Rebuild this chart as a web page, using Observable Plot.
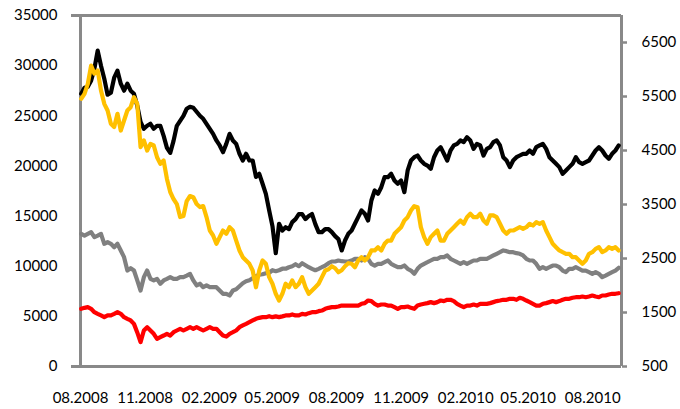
<!DOCTYPE html>
<html>
<head>
<meta charset="utf-8">
<script src="https://cdn.jsdelivr.net/npm/d3@7"></script>
<script src="https://cdn.jsdelivr.net/npm/@observablehq/plot@0.6"></script>
<style>
  html, body { margin: 0; padding: 0; background: #fff; }
  #chart { width: 680px; height: 409px; }
</style>
</head>
<body>
<div id="chart"></div>
<script>
// X-axis tick labels (month.year)
const xTickLabels = ["08.2008", "11.2008", "02.2009", "05.2009", "08.2009", "11.2009", "02.2010", "05.2010", "08.2010"];
// Left axis tick values
const leftTicks = [0, 5000, 10000, 15000, 20000, 25000, 30000, 35000];
// Right axis tick values
const rightTicks = [500, 1500, 2500, 3500, 4500, 5500, 6500];
const rightMin = 500, rightMax = 7000, leftMax = 35000;

// Sampled series (evenly spaced from early Aug 2008 to early Sep 2010), left-axis units
const blackSeries = [
  27200, 27800, 27900, 28500, 29700, 31500, 30000, 28700, 27100, 27300,
  28800, 29500, 28200, 27500, 28200, 27500, 27200, 26000, 24400, 23700,
  24000, 24200, 23700, 24000, 24000, 23000, 21800, 21300, 22500, 24000,
  24500, 25000, 25700, 25900, 25800, 25400, 25000, 24700, 24200, 23700, 23200,
  22540, 22040, 21370, 22200, 23200, 22540, 22200, 21210, 20540, 21210,
  20540, 20540, 18900, 19210, 18220, 17220, 15560, 14000, 11300, 14230,
  13560, 13890, 13700, 14400, 14700, 15200, 15200, 14700, 15000, 15200,
  14200, 13400, 13400, 13700, 13700, 13400, 13000, 12700, 11570, 12560, 13230,
  13560, 14230, 14890, 15560, 15230, 14560, 16550, 17550, 17220, 17880,
  18880, 18880, 19210, 18550, 18220, 18550, 17380, 19550, 20540, 20870,
  21040, 20540, 20210, 20040, 19710, 20870, 21540, 21870, 21210, 20540,
  21540, 22040, 22200, 22540, 22370, 22870, 22540, 21700, 22200, 22040, 21040,
  21700, 21870, 22370, 22540, 22040, 20870, 20540, 19880, 20540, 20870,
  21040, 21210, 21210, 21540, 21210, 21870, 22040, 22200, 21700, 20870,
  20540, 20210, 19880, 19210, 19550, 19880, 20210, 20870, 20380, 20210,
  20380, 20540, 21040, 21540, 21870, 21540, 21040, 20710, 21210, 21540, 22040
];
const yellowSeries = [
  26690, 27190, 28190, 30000, 29200, 29520, 27520, 26190, 25530, 24200,
  23870, 25200, 23530, 24530, 25530, 25860, 26860, 26190, 21870, 22540,
  21540, 22200, 22040, 20870, 20210, 20540, 18700, 17400, 16700, 16200,
  14900, 15000, 16500, 17000, 16880, 16200, 15900, 16000, 14900, 13560, 13060,
  12230, 12900, 13560, 13230, 13890, 13560, 12560, 11570, 10900, 10570,
  10240, 9570, 7900, 9570, 10570, 10240, 8910, 8250, 7250, 6580,
  7250, 8250, 7910, 8580, 7910, 8250, 8910, 7910, 7250, 7580,
  7910, 8250, 8910, 9570, 9700, 10000, 9800, 9400, 9600, 10000, 10300,
  10240, 9900, 10570, 10900, 10570, 10900, 11570, 11570, 11900, 11570,
  12230, 12560, 12560, 13230, 13560, 13890, 14560, 14890, 15560, 15990,
  15890, 13890, 12900, 12230, 12900, 13230, 13560, 12560, 12560, 13230,
  13560, 13890, 14230, 14560, 14230, 14890, 15230, 14890, 14890, 15230, 14560,
  14230, 15060, 15060, 14890, 14230, 13560, 13230, 13560, 13560, 13730,
  13890, 13730, 13890, 14230, 14060, 14390, 14230, 14390, 13560, 12900,
  12230, 11900, 11570, 11400, 11240, 11240, 10900, 10900, 10570, 10240,
  10570, 11240, 11400, 11730, 11900, 11400, 11570, 11900, 11730, 11900, 11570
];
const graySeries = [
  13230, 13060, 13230, 13400, 12900, 13060, 13230, 12230, 12400, 12230,
  11900, 12230, 11570, 10900, 9570, 9800, 9570, 8580, 7580, 8910,
  9570, 8740, 8580, 8740, 8250, 8580, 8740, 8910, 8740, 8740,
  8910, 8910, 9070, 9240, 8580, 8080, 8250, 7910, 8080, 7910, 7910,
  7910, 7580, 7250, 7250, 7080, 7580, 7700, 8000, 8300, 8500,
  8600, 8800, 9000, 9150, 9200, 9300, 9350, 9600, 9500, 9600,
  9750, 9750, 9900, 10000, 10200, 10000, 10300, 10100, 9900, 9740,
  9600, 9740, 9900, 10070, 10300, 10470, 10470, 10570, 10500, 10470, 10470,
  10570, 10740, 10740, 10570, 10900, 10740, 10240, 10070, 10240, 10240,
  10400, 10570, 10240, 10070, 9900, 9900, 10070, 9740, 9570, 9240,
  9740, 10070, 10240, 10400, 10570, 10740, 10740, 10900, 10900, 11070,
  10740, 10570, 10400, 10240, 10400, 10240, 10400, 10570, 10570, 10740, 10740,
  10740, 10900, 11070, 11240, 11400, 11570, 11500, 11400, 11400, 11300,
  11240, 11070, 10740, 10570, 10570, 10240, 9740, 9900, 9740, 9900,
  10070, 10070, 9900, 9570, 9410, 9740, 9740, 9900, 9740, 9570,
  9570, 9410, 9240, 9410, 9240, 8910, 9070, 9240, 9410, 9570, 9840
];
const redSeries = [
  5750, 5850, 5920, 5750, 5420, 5250, 5090, 4920, 5090, 5090,
  5250, 5420, 5250, 4920, 4750, 4590, 4250, 3400, 2430, 3590,
  3920, 3590, 3260, 2760, 2930, 3090, 3260, 3090, 3420, 3590,
  3760, 3590, 3760, 3920, 3760, 3920, 3760, 3590, 3760, 3920, 3760,
  3760, 3420, 3090, 2990, 3260, 3420, 3590, 3920, 4090, 4250,
  4420, 4590, 4750, 4850, 4920, 4920, 5020, 4920, 5000, 4920,
  5000, 5090, 5090, 5190, 5090, 5090, 5250, 5190, 5320, 5420,
  5420, 5520, 5580, 5750, 5850, 5920, 5920, 5980, 6080, 6080, 6080,
  6080, 6080, 6080, 6250, 6320, 6580, 6520, 6250, 6080, 6180,
  6180, 6080, 6080, 5920, 5750, 5920, 5920, 5980, 5850, 5750,
  6080, 6180, 6250, 6320, 6420, 6320, 6420, 6580, 6520, 6650,
  6650, 6520, 6250, 6080, 5920, 6080, 6080, 6180, 6080, 6250, 6250,
  6250, 6320, 6420, 6520, 6580, 6650, 6650, 6750, 6750, 6650,
  6850, 6750, 6580, 6420, 6250, 6080, 6080, 6250, 6320, 6420,
  6520, 6420, 6520, 6650, 6750, 6750, 6850, 6910, 6910, 6980,
  6910, 6980, 7080, 6980, 6910, 7080, 7080, 7180, 7250, 7250, 7310
];

const seriesNames = ["gray", "black", "red", "yellow"];
const seriesColors = {black: "#000000", yellow: "#FFC000", gray: "#808080", red: "#FF0000"};
const seriesValues = {black: blackSeries, yellow: yellowSeries, gray: graySeries, red: redSeries};

const firstDate = new Date(2008, 7, 2);
const lastDate = new Date(2010, 8, 7);
const domainStart = new Date(2008, 7, 1);
const domainEnd = new Date(2010, 8, 11);

function sampleDates(n) {
  const step = (lastDate - firstDate) / (n - 1);
  return d3.range(n).map(i => new Date(+firstDate + i * step));
}

const rows = [];
for (const name of seriesNames) {
  const vals = seriesValues[name];
  const dates = sampleDates(vals.length);
  vals.forEach((v, i) => rows.push({series: name, date: dates[i], value: v}));
}

const xTicks = xTickLabels.map(s => new Date(+s.slice(3), +s.slice(0, 2) - 1, 1));
const toLeft = r => (r - rightMin) * leftMax / (rightMax - rightMin);
const rightTickPos = rightTicks.map(toLeft);
const axisGray = "#898989";

const chart = Plot.plot({
  width: 680,
  height: 409,
  marginTop: 15,
  marginBottom: 43,
  marginLeft: 80,
  marginRight: 59,
  style: {background: "#fff", fontFamily: "Lato, 'Open Sans', sans-serif", fontSize: "15px", color: "#000"},
  x: {type: "time", domain: [domainStart, domainEnd], axis: null},
  y: {domain: [0, leftMax], axis: null},
  marks: [
    // axis frame lines
    Plot.ruleY([0, leftMax], {stroke: axisGray, strokeWidth: 3}),
    Plot.ruleX([domainStart, domainEnd], {stroke: axisGray, strokeWidth: 3}),
    // left axis labels
    Plot.axisY(leftTicks, {anchor: "left", label: null, tickSize: 0, tickPadding: 23, tickFormat: d => String(d), fill: "#000"}),
    // small extensions at the left of bottom and top lines
    Plot.axisY([0, leftMax], {anchor: "left", label: null, tickSize: 9, stroke: axisGray, strokeWidth: 3, tickFormat: () => ""}),
    // right axis with its own units
    Plot.axisY(rightTickPos, {anchor: "right", label: null, tickSize: 5, tickPadding: 15, stroke: axisGray, strokeWidth: 2.5,
      tickFormat: (d, i) => String(rightTicks[i]), fill: "#000"}),
    // x axis labels
    Plot.axisX(xTicks, {anchor: "bottom", label: null, tickSize: 0, tickPadding: 26, tickFormat: d3.timeFormat("%m.%Y"), fill: "#000"}),
    // series
    ...seriesNames.map(name => Plot.line(rows.filter(r => r.series === name), {
      x: "date", y: "value", stroke: seriesColors[name], strokeWidth: 4.2, strokeLinejoin: "round", strokeLinecap: "round"
    }))
  ]
});
document.getElementById("chart").appendChild(chart);
</script>
</body>
</html>
